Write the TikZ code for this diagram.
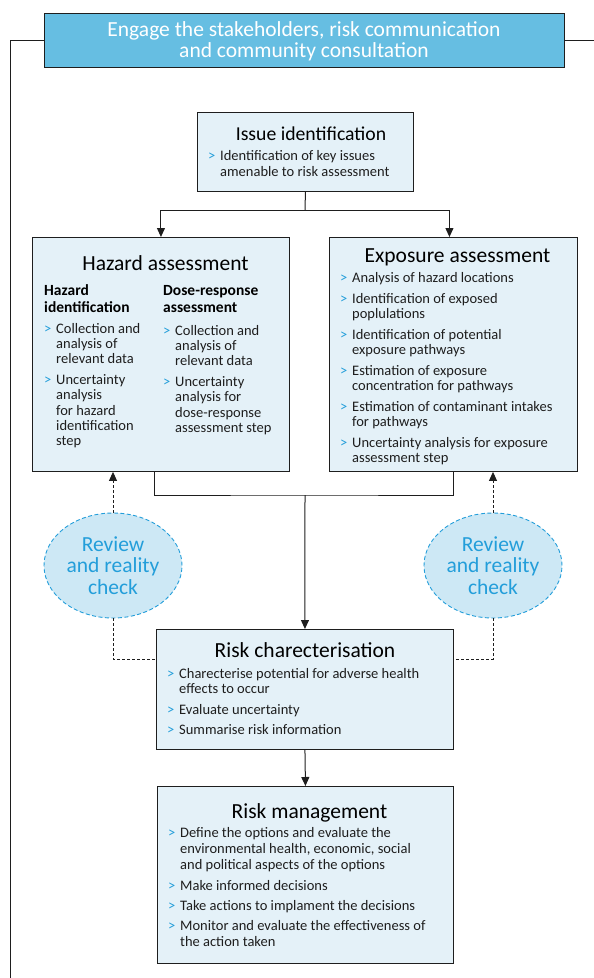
\documentclass[tikz,border=0pt]{standalone}
\usepackage{fontspec}
\setmainfont{Carlito}
\usetikzlibrary{arrows.meta,shapes.geometric}

\definecolor{bannerblue}{RGB}{102,190,226}
\definecolor{boxfill}{RGB}{228,241,248}
\definecolor{ovalfill}{RGB}{205,232,245}
\definecolor{accent}{RGB}{35,158,218}
\definecolor{ink}{RGB}{30,30,30}

% bullet chevron and a two-column bullet list (marker | text)
\newcommand\chev{\textcolor{accent}{>}}
\newenvironment{bulletlist}{\begin{tabular}[t]{@{}p{12pt}@{}l@{}}}{\end{tabular}}
\newenvironment{headlines}{\begin{tabular}[t]{@{}l@{}}}{\end{tabular}}

\tikzset{
  panel/.style={draw=ink, fill=boxfill, line width=0.9pt, inner sep=0pt, anchor=north west},
  heading/.style={anchor=base, inner sep=0pt, text=black, font=\fontsize{21.5}{24}\selectfont},
  bodytext/.style={anchor=base west, inner sep=0pt, text=ink, font=\fontsize{14.5}{15}\selectfont},
  subhead/.style={anchor=base west, inner sep=0pt, text=black, font=\fontsize{15.5}{17}\selectfont\bfseries},
  link/.style={draw=ink, line width=1pt},
  tip/.style={-{Triangle[length=9pt,width=8pt]}},
  dotted link/.style={draw=ink, line width=0.9pt, dash pattern=on 3pt off 2pt},
  oval/.style={ellipse, draw=accent, fill=ovalfill, line width=0.9pt, dash pattern=on 4pt off 2.5pt,
    minimum width=138pt, minimum height=105pt, inner sep=0pt, align=center, text=accent,
    font=\fontsize{21.5}{21.5}\selectfont},
}

\begin{document}
\begin{tikzpicture}[x=1pt, y=-1pt]
\useasboundingbox (0,0) rectangle (594,978);

% stakeholder banner and its surrounding frame lines
\node[draw=ink, fill=bannerblue, line width=0.9pt, minimum width=520pt, minimum height=54pt,
      inner sep=0pt] (banner) at (304,40) {};
\node[anchor=base, inner sep=0pt, text=white, font=\fontsize{21.5}{20.6}\selectfont]
      (bannertext) at (304,36.7) {\begin{tabular}[t]{@{}c@{}}Engage the stakeholders, risk communication\\and community consultation\end{tabular}};
\coordinate (frameL) at (10,40);
\coordinate (frameLB) at (10,978);
\coordinate (frameR) at (594,40);
\draw[link] (banner.west) -- (frameL) -- (frameLB);
\draw[link] (banner.east) -- (frameR);

% issue identification
\node[panel, minimum width=216pt, minimum height=79pt] (issue) at (197,112) {};
\node[heading, font=\fontsize{19.7}{22}\selectfont] (issuet) at (311,140) {Issue identification};
\node[bodytext, font=\fontsize{14.5}{16.4}\selectfont] (issuel) at (208,160) {\begin{bulletlist}
\chev & Identification of key issues\\
      & amenable to risk assessment
\end{bulletlist}};

% hazard assessment
\node[panel, minimum width=257pt, minimum height=234pt] (hazard) at (32,237) {};
\node[heading] (hazardt) at (165.5,270) {Hazard assessment};
\node[subhead] (hazid) at (44,295) {\begin{headlines}Hazard\\identification\end{headlines}};
\node[subhead] (dose) at (163,295) {\begin{headlines}Dose-response\\assessment\end{headlines}};
\node[bodytext, font=\fontsize{14.5}{15.2}\selectfont] (hazidl) at (44,333) {\begin{bulletlist}
\chev & Collection and\\
      & analysis of\\
      & relevant data\\[6pt]
\chev & Uncertainty\\
      & analysis\\
      & for hazard\\
      & identification\\
      & step
\end{bulletlist}};
\node[bodytext, font=\fontsize{14.5}{15.2}\selectfont] (dosel) at (163,335) {\begin{bulletlist}
\chev & Collection and\\
      & analysis of\\
      & relevant data\\[6pt]
\chev & Uncertainty\\
      & analysis for\\
      & dose-response\\
      & assessment step
\end{bulletlist}};

% exposure assessment
\node[panel, minimum width=248pt, minimum height=234pt] (exposure) at (329,237) {};
\node[heading] (exposuret) at (457.5,262) {Exposure assessment};
\node[bodytext, font=\fontsize{14.5}{14.5}\selectfont] (exposurel) at (340,282) {\begin{bulletlist}
\chev & Analysis of hazard locations\\[7pt]
\chev & Identification of exposed\\
      & poplulations\\[7pt]
\chev & Identification of potential\\
      & exposure pathways\\[7pt]
\chev & Estimation of exposure\\
      & concentration for pathways\\[7pt]
\chev & Estimation of contaminant intakes\\
      & for pathways\\[7pt]
\chev & Uncertainty analysis for exposure\\
      & assessment step
\end{bulletlist}};

% links from issue identification to the two assessments
\coordinate (fork) at (305,210);
\draw[link] (issue.south) -- (fork);
\draw[link, tip] (fork) -| (hazard.north);
\draw[link, tip] (fork) -| ([xshift=-4pt]exposure.north);

% risk characterisation
\node[panel, minimum width=297pt, minimum height=120pt] (riskchar) at (156,629) {};
\node[heading] (riskchart) at (305,657) {Risk charecterisation};
\node[bodytext] (riskcharl) at (167,678) {\begin{bulletlist}
\chev & Charecterise potential for adverse health\\
      & effects to occur\\[6pt]
\chev & Evaluate uncertainty\\[5pt]
\chev & Summarise risk information
\end{bulletlist}};

% joining both assessments into risk characterisation
\coordinate (join) at (305,495);
\draw[link] ([xshift=-6.5pt]hazard.south) |- (join) -| (exposure.south);
\draw[link, tip] (join) -- (riskchar.north);

% review and reality check ovals
\node[oval] (reviewL) at (113,565.5) {Review\\and reality\\check};
\node[oval] (reviewR) at (493,565.5) {Review\\and reality\\check};
\draw[dotted link, tip] (reviewL.north) -- (reviewL.north |- hazard.south);
\draw[dotted link, tip] (reviewR.north) -- (reviewR.north |- exposure.south);
\draw[dotted link] (reviewL.south) |- ([yshift=-30pt]riskchar.north west);
\draw[dotted link] (reviewR.south) |- ([yshift=-30pt]riskchar.north east);

% risk management
\node[panel, minimum width=296pt, minimum height=177pt] (riskman) at (157,786) {};
\node[heading] (riskmant) at (309.5,818) {Risk management};
\node[bodytext, font=\fontsize{14.5}{16}\selectfont] (riskmanl) at (168,837) {\begin{bulletlist}
\chev & Define the options and evaluate the\\
      & environmental health, economic, social\\
      & and political aspects of the options\\[5pt]
\chev & Make informed decisions\\[4pt]
\chev & Take actions to implament the decisions\\[4pt]
\chev & Monitor and evaluate the effectiveness of\\
      & the action taken
\end{bulletlist}};
\draw[link, tip] (riskchar.south) -- (riskman.north);

\end{tikzpicture}
\end{document}
